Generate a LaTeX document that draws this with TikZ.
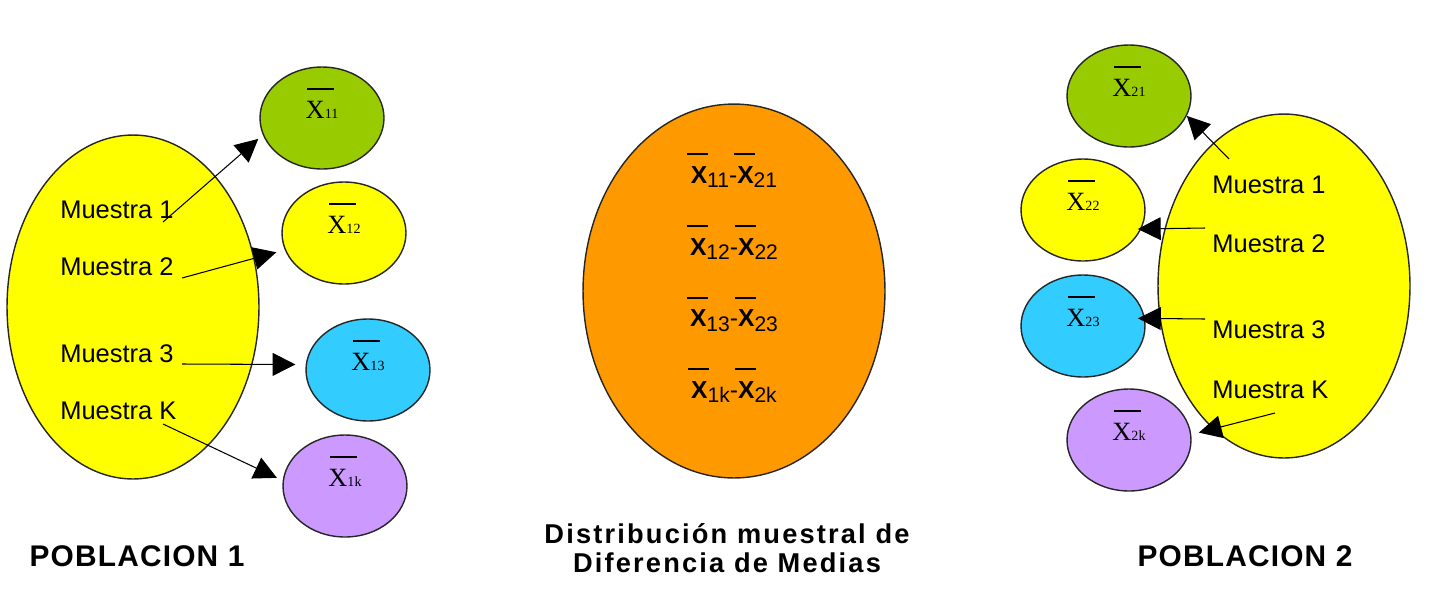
\documentclass[tikz,border=0pt]{standalone}
\usepackage{fontspec}
\setmainfont{Liberation Sans}
\newfontfamily\serifx{Liberation Serif}
\newfontfamily\widebf[LetterSpace=8]{Liberation Sans}
\newfontfamily\pobbf[LetterSpace=4]{Liberation Sans}
\usepackage{tikz}
\usetikzlibrary{arrows.meta,shapes.geometric}
\definecolor{Pyellow}{HTML}{FFFF00}
\definecolor{Pgreen}{HTML}{99CC00}
\definecolor{Pcyan}{HTML}{33CCFF}
\definecolor{Ppurple}{HTML}{CC99FF}
\definecolor{Porange}{HTML}{FF9900}
% sample mean with bar (small ellipses) and bold mean (centre ellipse)
\newcommand{\mbar}[1]{\makebox[0pt][l]{\hspace{1pt}\raisebox{16pt}{\rule{15pt}{1.1pt}}}X{\fontsize{8}{8}\selectfont #1}}
\newcommand{\mbarb}[1]{\makebox[0pt][l]{\hspace{-2pt}\raisebox{16pt}{\rule{12pt}{1.1pt}}}\textbf{X}\raisebox{-2.5pt}{\fontsize{12}{12}\selectfont #1}}

\begin{document}
\begin{tikzpicture}[
  x=0.02cm, y=-0.02cm,
  font=\fontsize{14.5}{16}\selectfont, >={Triangle[length=13pt,width=13pt]},
  pob/.style    ={draw=black!85, line width=0.8pt, ellipse, fill=Pyellow, minimum width=5.04cm, minimum height=6.88cm, inner sep=0pt},
  media/.style  ={draw=black!85, line width=0.8pt, ellipse, minimum width=2.48cm, minimum height=2.04cm, inner sep=0pt, font=\serifx\fontsize{15}{15}\selectfont},
  muestra/.style={anchor=west, inner sep=0pt},
  flecha/.style ={->, line width=0.6pt},
  titulo/.style ={font=\pobbf\bfseries\fontsize{17}{20}\selectfont, inner sep=0pt, align=center},
]
\useasboundingbox (0,0) rectangle (1434,606);

% ── Poblacion 1 ──────────────────────────────────────────────────────
\node[pob] (pob1) at (133,307) {};
\node[media, fill=Pgreen]  (x11) at (322,118) {\smash{\mbar{11}}};
\node[media, fill=Pyellow] (x12) at (344,233) {\smash{\mbar{12}}};
\node[media, fill=Pcyan]   (x13) at (368,370) {\smash{\mbar{13}}};
\node[media, fill=Ppurple] (x1k) at (345,486) {\smash{\mbar{1k}}};

\node[muestra] (m11) at (60,210) {Muestra 1};
\node[muestra] (m12) at (60,267) {Muestra 2};
\node[muestra] (m13) at (60,354) {Muestra 3};
\node[muestra] (m1k) at (60,411) {Muestra K};

\coordinate (s11) at (163,222);
\coordinate (s12) at (182,278);
\coordinate (s13) at (182,364);
\coordinate (s1k) at (163,424);
\draw[flecha, shorten >=3.4pt] (s11) -- (x11.196);
\draw[flecha, shorten >=5pt]   (s12) -- (x12.196);
\draw[flecha, shorten >=5.8pt] (s13) -- (x13.175);
\draw[flecha, shorten >=3.6pt] (s1k) -- (x1k.175);

\node[titulo] (t1) at (137,556) {POBLACION 1};

% ── Distribucion muestral ────────────────────────────────────────────
\node[draw=black!85, line width=0.8pt, ellipse, fill=Porange, minimum width=6.04cm, minimum height=7.48cm,
  inner sep=0pt, align=center, font=\fontsize{14}{40.8}\selectfont] (dif) at (734,291)
  {\smash{\mbarb{11}-\mbarb{21}}\\ \smash{\mbarb{12}-\mbarb{22}}\\
   \smash{\mbarb{13}-\mbarb{23}}\\ \smash{\mbarb{1k}-\mbarb{2k}}};

\node[titulo, font=\widebf\bfseries\fontsize{15.5}{16.5}\selectfont] (tdif) at (727,548)
  {Distribución muestral de\\Diferencia de Medias};

% ── Poblacion 2 ──────────────────────────────────────────────────────
\node[pob] (pob2) at (1284,286) {};
\node[media, fill=Pgreen]  (x21) at (1129,96)  {\smash{\mbar{21}}};
\node[media, fill=Pyellow] (x22) at (1083,210) {\smash{\mbar{22}}};
\node[media, fill=Pcyan]   (x23) at (1083,326) {\smash{\mbar{23}}};
\node[media, fill=Ppurple] (x2k) at (1129,440) {\smash{\mbar{2k}}};

\node[muestra] (m21) at (1212,185) {Muestra 1};
\node[muestra] (m22) at (1212,244) {Muestra 2};
\node[muestra] (m23) at (1212,330) {Muestra 3};
\node[muestra] (m2k) at (1212,390) {Muestra K};

\coordinate (s21) at (1229,159);
\coordinate (s22) at (1205,228);
\coordinate (s23) at (1205,319);
\coordinate (s2k) at (1275,413);
\draw[flecha]                   (s21) -- (x21.341);
\draw[flecha, shorten >=-2pt]   (s22) -- (x22.342);
\draw[flecha, shorten >=-4pt]   (s23) -- (x23.7);
\draw[flecha, shorten >=4.4pt]  (s2k) -- (x2k.5);

\node[titulo] (t2) at (1245,556) {POBLACION 2};

\end{tikzpicture}
\end{document}
